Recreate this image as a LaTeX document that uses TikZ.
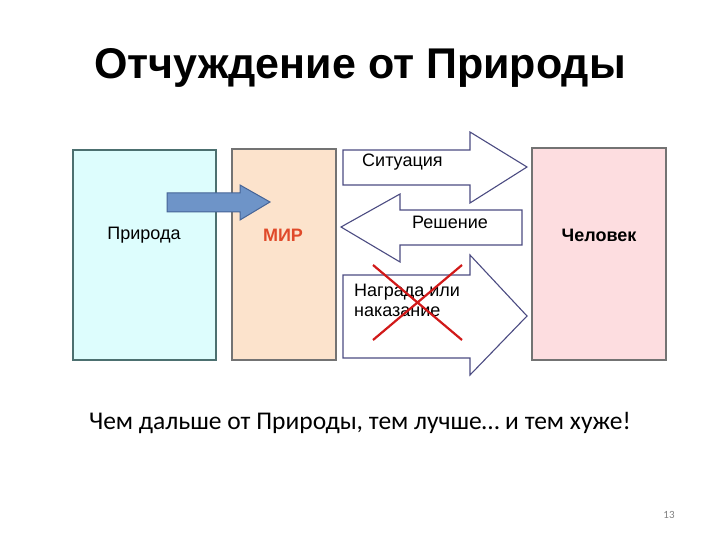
\documentclass[tikz,border=0pt]{standalone}
\usepackage{fontspec}
\setmainfont{Liberation Sans}
\newfontfamily\carl{Carlito}
\begin{document}
\begin{tikzpicture}[x=1pt,y=-1pt,
  arr/.style={draw=black!70!blue!70,fill=white,line width=1.1pt},
  lbl/.style={font=\fontsize{18}{20}\selectfont,align=left,anchor=west,inner sep=0pt}]
\useasboundingbox (0,0) rectangle (720,540);
\node (title) at (360,68) {\fontsize{43}{50}\selectfont\bfseries Отчуждение от Природы};
\definecolor{cy}{HTML}{DDFDFD}\definecolor{pe}{HTML}{FCE3CC}\definecolor{pk}{HTML}{FDDDE0}
\filldraw[fill=cy,draw=black!60!teal!70,line width=1.3pt] (73,150) rectangle (216,360);
\filldraw[fill=pe,draw=gray!90!black,line width=1.3pt] (232,149) rectangle (336,360);
\filldraw[fill=pk,draw=gray!90!black,line width=1.3pt] (532,148) rectangle (666,360);
\node (priroda) at (144,235) {\fontsize{18}{20}\selectfont Природа};
\node (mir) at (283,235) {\fontsize{18}{20}\selectfont\bfseries\color[HTML]{E04A2A}МИР};
\node (chel) at (599,235) {\fontsize{18}{20}\selectfont\bfseries Человек};
\filldraw[fill={rgb,255:red,110;green,148;blue,200},draw={rgb,255:red,70;green,100;blue,150},line width=1pt]
  (167,193) -- (240,193) -- (240,185) -- (270,202) -- (240,220) -- (240,212) -- (167,212) -- cycle;
\filldraw[arr] (343,150) -- (470,150) -- (470,132) -- (527,167) -- (470,203) -- (470,185) -- (343,185) -- cycle;
\filldraw[arr] (522,210) -- (400,210) -- (400,194) -- (341,227) -- (400,262) -- (400,245) -- (522,245) -- cycle;
\filldraw[arr] (343,275) -- (470,275) -- (470,255) -- (527,316) -- (470,375) -- (470,358) -- (343,358) -- cycle;
\node[lbl] (sit) at (362,162) {Ситуация};
\node[lbl] (resh) at (412,222) {Решение};
\node[lbl,align=left] (nag) at (354,300) {Награда или\\наказание};
\draw[red!80!black!90,line width=2.2pt] (373,265) -- (462,340) (462,265) -- (373,340);
\node (sub) at (360,423) {\carl\fontsize{25.5}{30}\selectfont Чем дальше от Природы, тем лучше… и тем хуже!};
\node (pg) at (669,515) {\carl\fontsize{11}{13}\selectfont\color{gray}13};
\end{tikzpicture}
\end{document}
